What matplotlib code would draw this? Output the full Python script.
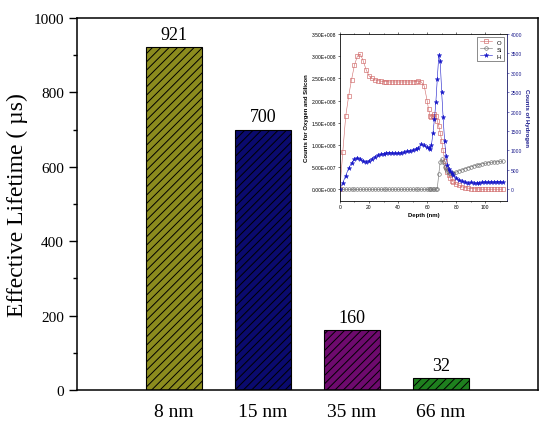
import matplotlib
matplotlib.use("Agg")
import matplotlib.pyplot as plt
from matplotlib.ticker import MultipleLocator, FuncFormatter

# main bar chart data
thickness = ["8 nm", "15 nm", "35 nm", "66 nm"]
lifetime = [921, 700, 160, 32]
bar_colors = ["#8C8C1E", "#0A0A6E", "#6E0A6E", "#1E801E"]

# inset: SIMS depth profile (O and Si in units of 1e8 counts, H in counts)
depth = [0, 2, 4, 6, 8, 10, 12, 14, 16, 18, 20, 22, 24, 26, 28, 30, 32, 34, 36, 38,
         40, 42, 44, 46, 48, 50, 52, 54, 56, 58, 60, 61, 62, 63, 64, 65, 66, 67, 68, 69,
         70, 71, 72, 73, 74, 75, 76, 77, 78, 80, 82, 84, 86, 88, 90, 92, 94, 96, 98, 100,
         102, 104, 106, 108, 110, 112]
oxygen = [0.0, 0.85, 1.65, 2.1, 2.47, 2.8, 3.0, 3.05, 2.9, 2.7, 2.56, 2.5, 2.47, 2.45, 2.44, 2.43,
          2.43, 2.42, 2.42, 2.42, 2.42, 2.42, 2.42, 2.42, 2.42, 2.42, 2.43, 2.44, 2.42, 2.33,
          2.0, 1.8, 1.66, 1.62, 1.66, 1.70, 1.66, 1.55, 1.42, 1.28, 1.10, 0.88, 0.65, 0.5, 0.4,
          0.32, 0.26, 0.2, 0.17, 0.12, 0.09, 0.06, 0.04, 0.03, 0.02, 0.015, 0.01, 0.01, 0.005,
          0.005, 0.005, 0.005, 0.005, 0.005, 0.005, 0.005]
silicon = [0.0] * 37 + [0.02, 0.35, 0.62, 0.68, 0.62, 0.5, 0.45, 0.41, 0.38, 0.36, 0.36, 0.37,
                        0.39, 0.42, 0.44, 0.47, 0.49, 0.51, 0.53, 0.55, 0.56, 0.58, 0.59, 0.6,
                        0.61, 0.62, 0.62, 0.63, 0.63]
hydrogen = [20, 170, 350, 540, 680, 780, 815, 790, 730, 710, 740, 790, 840, 880, 900, 920, 940,
            945, 935, 930, 930, 945, 960, 975, 990, 1010, 1040, 1075, 1160, 1130, 1080, 1060,
            1040, 1150, 1450, 1800, 2250, 2850, 3450, 3300, 2500, 1850, 1250, 850, 620, 520,
            460, 420, 380, 300, 240, 210, 190, 175, 180, 165, 160, 175, 185, 190, 180, 195,
            185, 200, 195, 180]

serif = "Liberation Serif"
sans = "Liberation Sans"
plt.rcParams["hatch.linewidth"] = 0.7

fig = plt.figure(figsize=(5.5, 4.27), dpi=100)
ax = fig.add_axes([0.140, 0.0843, 0.838, 0.8712])

x = range(len(thickness))
bars = ax.bar(x, lifetime, width=0.63, color=bar_colors, edgecolor="black",
              linewidth=0.8, hatch="////", zorder=2)
for b, v in zip(bars, lifetime):
    ax.text(b.get_x() + b.get_width() / 2, v + 12, str(v), ha="center", va="bottom",
            fontsize=13, family=serif)

ax.set_xlim(-1.09, 4.09)
ax.set_ylim(0, 1000)
ax.set_xticks(list(x))
ax.set_xticklabels(thickness, fontsize=14, family=serif)
ax.tick_params(axis="x", length=0, pad=9)
ax.yaxis.set_major_locator(MultipleLocator(200))
ax.yaxis.set_minor_locator(MultipleLocator(100))
ax.tick_params(axis="y", which="major", direction="out", length=6, width=1, labelsize=11)
ax.tick_params(axis="y", which="minor", direction="out", length=3, width=1)
for lab in ax.get_yticklabels():
    lab.set_family(serif)
ax.set_ylabel("Effective Lifetime ( µs)", fontsize=17, family=serif, labelpad=4)
for s in ax.spines.values():
    s.set_linewidth(1.1)

# inset depth profile
ins = fig.add_axes([0.618, 0.527, 0.304, 0.391])
ins.plot(depth, [v * 1e8 for v in oxygen], "-", color="#D06868", lw=0.4,
         marker="s", ms=2.6, mfc="none", mew=0.45, label="O")
ins.plot(depth, [v * 1e8 for v in silicon], "-", color="#6E6E6E", lw=0.4,
         marker="o", ms=2.6, mfc="none", mew=0.45, label="Si")
ins2 = ins.twinx()
ins2.plot(depth, hydrogen, "-", color="#1414C8", lw=0.4, marker="*", ms=3.4,
          mew=0.3, label="H")

ins.set_xlim(0, 115)
ins.set_ylim(-2.6e7, 3.5e8)
ins2.set_ylim(-300, 4000)
ins.xaxis.set_major_locator(MultipleLocator(20))
ins.xaxis.set_minor_locator(MultipleLocator(10))
ins.yaxis.set_major_locator(MultipleLocator(5e7))


def sci(v, pos):
    if v == 0:
        return "0.00E+000"
    e = 0
    m = v
    while abs(m) >= 10:
        m /= 10
        e += 1
    return f"{m:.2f}E+{e:03d}"


ins.yaxis.set_major_formatter(FuncFormatter(sci))
ins2.yaxis.set_major_locator(MultipleLocator(500))
ins.tick_params(labelsize=3.6, length=1.5, width=0.4, pad=1)
ins.tick_params(which="minor", length=1, width=0.4)
ins.tick_params(axis="x", top=True, which="both")
ins2.tick_params(labelsize=3.6, length=1.5, width=0.4, pad=1, colors="#1A1A8C")
for lab in ins.get_xticklabels() + ins.get_yticklabels() + ins2.get_yticklabels():
    lab.set_family(sans)
ins.set_xlabel("Depth (nm)", fontsize=4.3, family=sans, fontweight="bold", labelpad=2)
ins.set_ylabel("Counts for Oxygen and Silicon", fontsize=4.3, family=sans,
               fontweight="bold", labelpad=2)
ins2.set_ylabel("Counts of Hydrogen", fontsize=4.3, family=sans, fontweight="bold",
                color="#1A1A8C", rotation=270, labelpad=5)
for s in ins.spines.values():
    s.set_linewidth(0.4)
for s in ins2.spines.values():
    s.set_linewidth(0.4)
ins2.spines["right"].set_color("#1A1A8C")

h1, l1 = ins.get_legend_handles_labels()
h2, l2 = ins2.get_legend_handles_labels()
leg = ins2.legend(h1 + h2, l1 + l2, loc="upper right", frameon=True, fancybox=False,
                  edgecolor="black", handlelength=2, borderpad=0.4, labelspacing=0.3,
                  prop={"family": sans, "size": 4.3})
leg.get_frame().set_linewidth(0.4)

fig.savefig("out.png", dpi=100)
